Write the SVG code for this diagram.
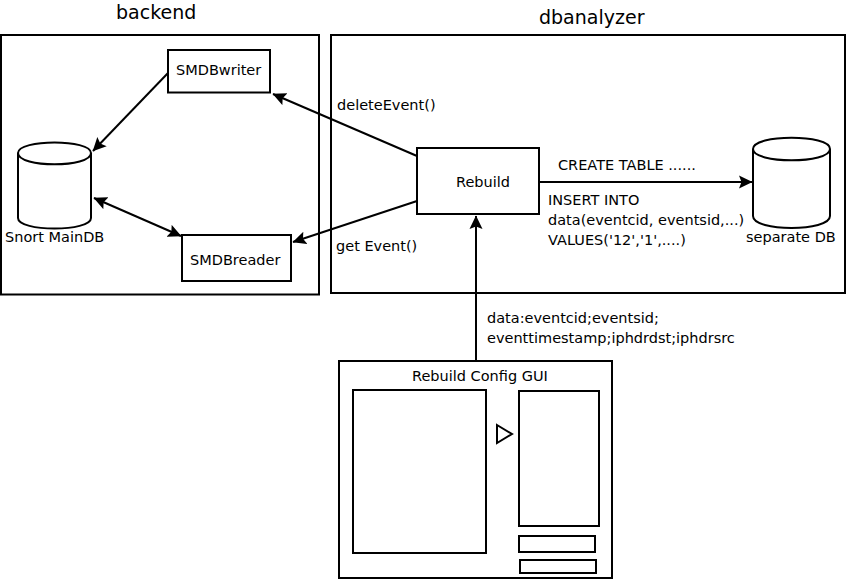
<svg xmlns="http://www.w3.org/2000/svg" width="847" height="581" viewBox="0 0 847 581">
<defs>
<marker id="arrow" markerUnits="userSpaceOnUse" markerWidth="16" markerHeight="15" refX="13" refY="7" orient="auto-start-reverse" viewBox="0 0 16 15"><path d="M0,0.500 L13.500,7 L0,13.500 L2.500,7 Z" fill="#000"/></marker>
</defs>
<style>
rect,.s{fill:#fff;stroke:#000;stroke-width:2}
.c{fill:none;stroke:#000;stroke-width:2;marker-end:url(#arrow)}
text{font-family:"DejaVu Sans",sans-serif;font-size:14.5px;fill:#000}
.t{font-size:19px}
</style>
<rect id="backend-box" x="1" y="35" width="318" height="259.500"/>
<rect id="dbanalyzer-box" x="331" y="35" width="514" height="258"/>
<text class="t" x="116" y="19">backend</text>
<text class="t" x="539" y="23.500">dbanalyzer</text>
<g id="SMDBwriter"><rect x="168" y="50" width="102" height="42.500"/><text x="176" y="75">SMDBwriter</text></g>
<g id="SMDBreader"><rect x="182" y="235" width="109" height="46"/><text x="190" y="265">SMDBreader</text></g>
<g id="MainDB"><path class="s" d="M18,153 C18,139 91,139 91,153 V218 C91,232 18,232 18,218 Z"/><path class="s" d="M18,153 C18,168 91,168 91,153" fill="none"/><text x="5" y="242">Snort MainDB</text></g>
<g id="Rebuild"><rect x="417" y="148" width="122" height="66"/><text x="456" y="187">Rebuild</text></g>
<g id="separateDB"><path class="s" d="M753,149 C753,134 830,134 830,149 V216 C830,232 753,232 753,216 Z"/><path class="s" d="M753,149 C753,164 830,164 830,149" fill="none"/><text x="746" y="242">separate DB</text></g>
<g id="connectors">
<path class="c" d="M168,73 L93,151"/>
<path class="c" d="M417,156 L273,94"/>
<path class="c" d="M417,201 L293,242"/>
<path class="c" d="M94,198 L181,236" marker-start="url(#arrow)"/>
<path class="c" d="M539,182 L752,182"/>
<path class="c" d="M476,361 V216"/>
</g>
<text x="337" y="110">deleteEvent()</text>
<text x="336" y="251">get Event()</text>
<text x="558" y="170">CREATE TABLE ......</text>
<text x="548" y="205">INSERT INTO</text>
<text x="548" y="225">data(eventcid, eventsid,...)</text>
<text x="548" y="245">VALUES('12','1',....)</text>
<text x="487" y="323">data:eventcid;eventsid;</text>
<text x="487" y="343">eventtimestamp;iphdrdst;iphdrsrc</text>
<g id="RebuildConfigGUI">
<rect x="339" y="361" width="273" height="217"/>
<text x="412" y="381">Rebuild Config GUI</text>
<rect x="353" y="390" width="133" height="163"/>
<rect x="519" y="391" width="80" height="135"/>
<rect x="519" y="536" width="76" height="16"/>
<rect x="520" y="560" width="76" height="13"/>
<path class="s" d="M497,425 L512,434 L497,443 Z"/>
</g>
</svg>
